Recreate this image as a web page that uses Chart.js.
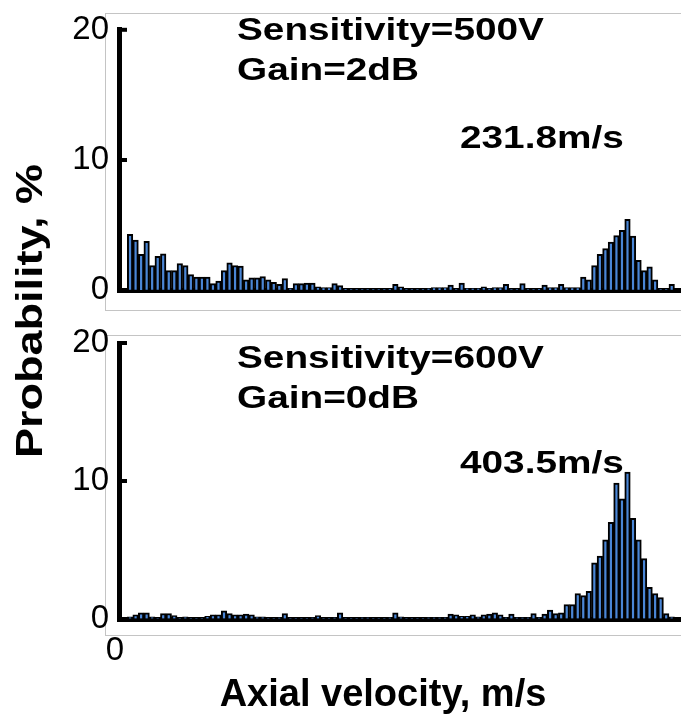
<!DOCTYPE html>
<html><head><meta charset="utf-8">
<script src="https://cdn.jsdelivr.net/npm/chart.js@4.4.1/dist/chart.umd.min.js"></script>
<style>
html,body{margin:0;padding:0;background:#fff;width:681px;height:715px;overflow:hidden}
#wrapB{position:absolute;left:0;top:0;width:681px;height:715px}
#wrapA{position:absolute;left:0;top:0;width:681px;height:320px}
</style></head><body>
<div id="wrapB"><canvas id="cB"></canvas></div>
<div id="wrapA"><canvas id="cA"></canvas></div>
<script>
// ---- data ----
const binCenters = Array.from({length:100},(_,k)=>k+0.5);
const topValues = [4.3,3.85,2.75,3.75,1.9,2.6,2.8,1.5,1.5,2.05,
  1.9,1.2,1.0,1.0,1.0,0.5,0.7,1.5,2.1,1.9,
  1.85,0.8,0.95,0.95,1.05,0.8,0.6,0.45,0.9,0.15,
  0.5,0.5,0.55,0.55,0.25,0.2,0.2,0.5,0.35,0.1,
  0.05,0.05,0.05,0.05,0.05,0.05,0.05,0.1,0.45,0.25,
  0.05,0.05,0.05,0.05,0.15,0.2,0.2,0.2,0.4,0.05,
  0.55,0.15,0.15,0.15,0.25,0.15,0.2,0.2,0.45,0.05,
  0.05,0.5,0.05,0.05,0.1,0.4,0.2,0.2,0.45,0.2,
  0.2,0.2,1.0,0.8,1.9,2.75,3.2,3.7,4.2,4.6,
  5.45,4.15,2.3,1.5,1.8,0.8,0.05,0.05,0.45,0];
const bottomValues = [0.15,0.3,0.45,0.45,0.15,0.05,0.4,0.4,0.25,0.05,
  0.15,0.05,0.05,0.05,0.2,0.3,0.3,0.6,0.4,0.3,
  0.3,0.35,0.3,0.15,0.15,0.05,0.05,0.1,0.4,0.05,
  0.05,0.05,0.05,0.1,0.25,0.05,0.05,0.1,0.45,0.05,
  0.05,0.05,0.1,0.1,0.05,0.05,0.05,0.1,0.45,0.15,
  0.05,0.05,0.05,0.05,0.1,0.1,0.1,0.1,0.35,0.3,
  0.2,0.2,0.3,0.15,0.3,0.35,0.45,0.3,0.1,0.35,
  0.1,0.1,0.1,0.4,0.1,0.35,0.65,0.4,0.45,1.05,
  1.05,1.85,1.7,2.0,4.07,4.56,5.73,7.0,9.85,8.7,
  10.65,7.3,5.73,4.38,2.3,1.85,1.56,0.39,0.15,0];
const yTickValues = [0,10,20];
const xTickLabels = ['0'];
const topNotes = ['Sensitivity=500V','Gain=2dB','231.8m/s'];
const bottomNotes = ['Sensitivity=600V','Gain=0dB','403.5m/s'];
const yTitle = 'Probability, %';
const xTitle = 'Axial velocity, m/s';

// ---- style ----
const FONT = "'Liberation Sans', Arial, sans-serif";
const BAR_FILL = '#4a86d6';

function drawStretched(c, text, x, y, font, sx){
  c.save(); c.font = font; c.translate(x,y); c.scale(sx,1); c.fillText(text,0,0); c.restore();
}

function yScale(){
  return {
    min:0, max:20,
    afterBuildTicks: s => { s.ticks = yTickValues.map(v => ({value:v})); },
    ticks:{font:{family:FONT,size:33}, color:'#000', padding:10},
    grid:{drawOnChartArea:false, drawTicks:false},
    border:{color:'#000', width:5},
    afterFit: s => { s.width = 119; }
  };
}
function dataset(vals){
  return {
    data: vals.map((v,i)=>({x:binCenters[i], y:v})),
    backgroundColor: BAR_FILL,
    borderColor:'#000',
    borderWidth:2,
    barPercentage:1,
    categoryPercentage:1
  };
}
function framePlugin(y0,y1){
  return {id:'frame', beforeDraw(chart){
    const c=chart.ctx; c.save(); c.strokeStyle='#c4c4c4'; c.lineWidth=1;
    c.strokeRect(105.5,y0+0.5,680,y1-y0); c.restore();
  }};
}
function notesPlugin(notes,pos){
  return {id:'notes', afterDraw(chart){
    const c=chart.ctx; c.save();
    c.fillStyle='#000'; c.textBaseline='alphabetic';
    notes.forEach((t,i)=>drawStretched(c,t,pos[i][0],pos[i][1],'bold 31px '+FONT,1.25));
    // inward tick marks on y axis
    const ys = chart.scales.y, L = chart.chartArea.left;
    c.strokeStyle='#000'; c.lineWidth=4;
    yTickValues.filter(v=>v>0).forEach(v=>{
      const py = ys.getPixelForValue(v);
      c.beginPath(); c.moveTo(L-2,py); c.lineTo(L+8,py); c.stroke();
    });
    c.restore();
  }};
}
const titlesPlugin = {id:'titles', afterDraw(chart){
  const c=chart.ctx; c.save();
  c.fillStyle='#000'; c.textAlign='center'; c.textBaseline='middle';
  c.font='bold 38px '+FONT;
  c.fillText(xTitle,383,696);
  c.font='bold 36px '+FONT;
  c.translate(32,311); c.rotate(-Math.PI/2); c.scale(1.25,1); c.fillText(yTitle,0,0);
  c.restore();
}};

const common = {
  responsive:true, maintainAspectRatio:false, animation:false,
  plugins:{legend:{display:false}, tooltip:{enabled:false}}
};
function xBase(){
  return {type:'linear', min:-1.5, max:100, offset:false,
    grid:{drawOnChartArea:false, drawTicks:false},
    border:{color:'#000', width:5}};
}

// top panel
new Chart(document.getElementById('cA'), {
  type:'bar',
  data:{datasets:[dataset(topValues)]},
  options:Object.assign({}, common, {
    layout:{padding:{top:18,left:0,right:1,bottom:26}},
    scales:{
      x:Object.assign(xBase(), {ticks:{display:false}, afterFit:s=>{s.height=0;}}),
      y:yScale()
    }
  }),
  plugins:[framePlugin(13,310), notesPlugin(topNotes,[[237,40],[237,80],[460,148]])]
});

// bottom panel (full page canvas)
new Chart(document.getElementById('cB'), {
  type:'bar',
  data:{datasets:[dataset(bottomValues)]},
  options:Object.assign({}, common, {
    layout:{padding:{top:343,left:0,right:1,bottom:0}},
    scales:{
      x:Object.assign(xBase(), {
        afterBuildTicks: s => { s.ticks = [{value:s.min}]; },
        ticks:{callback:(v,i)=>xTickLabels[i], font:{family:FONT,size:33}, color:'#000',
          padding:12, labelOffset:-4, autoSkip:false, maxRotation:0},
        afterFit:s=>{s.height=96;}}),
      y:yScale()
    }
  }),
  plugins:[framePlugin(335,635), notesPlugin(bottomNotes,[[237,368],[237,408],[460,473]]), titlesPlugin]
});
</script>
</body></html>
